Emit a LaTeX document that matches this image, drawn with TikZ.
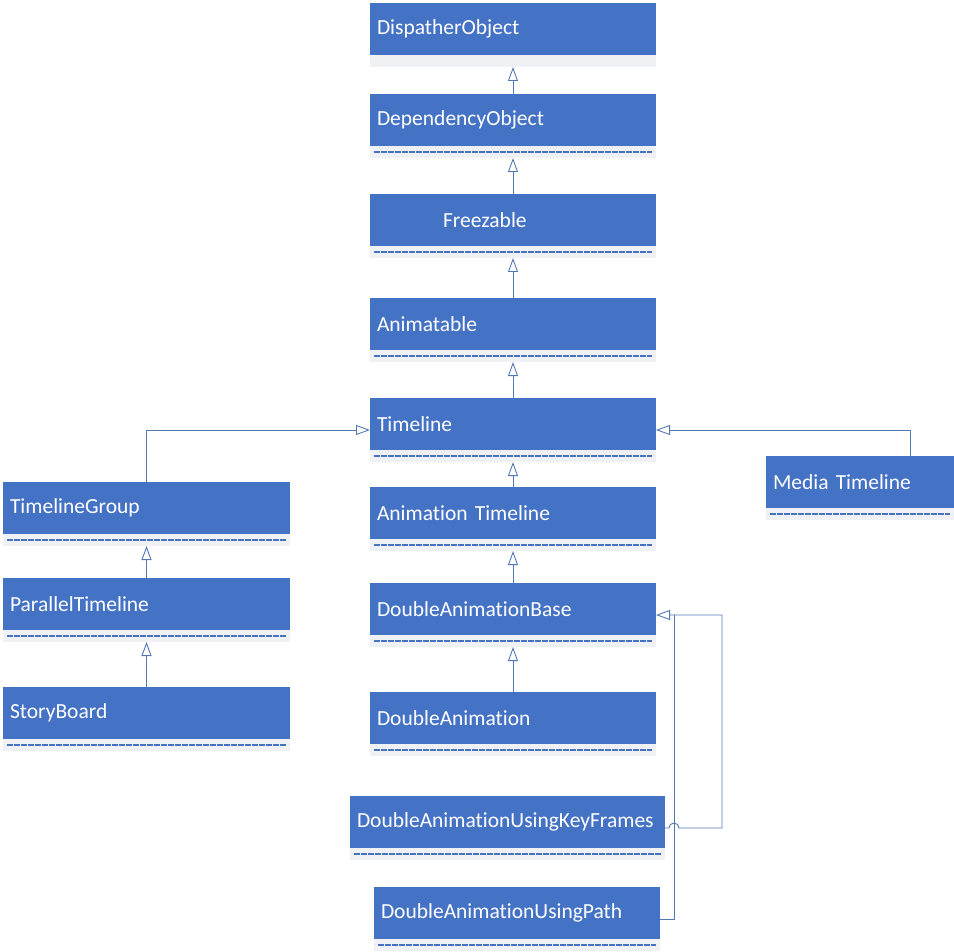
\documentclass[tikz,border=0pt]{standalone}
\usepackage{fontspec}
\setmainfont{Carlito}[Ligatures=NoCommon]
\usetikzlibrary{positioning,arrows.meta}
\definecolor{umlblue}{RGB}{68,114,196}
\definecolor{umlline}{RGB}{84,120,180}
\definecolor{stripgray}{RGB}{239,241,244}
\tikzset{
    classbox/.style = {fill=umlblue, text=white, rectangle, anchor=north west, minimum height=52pt, inner xsep=7pt, inner ysep=0pt, outer sep=0pt, text width=#1, align=left, font=\fontsize{21.5}{26}\selectfont, execute at begin node={\hyphenpenalty=10000}},
    classbox/.default = 272pt,
    plainstrip/.style = {fill=stripgray, rectangle, minimum height=12pt, minimum width=#1, inner sep=0pt, outer sep=0pt},
    plainstrip/.default = 286pt,
    classstrip/.style = {plainstrip=#1, path picture={\draw[umlblue, line width=1.8pt, dash pattern=on 6pt off 1pt] ([xshift=4pt]path picture bounding box.west) -- ([xshift=-4pt]path picture bounding box.east);}},
    classstrip/.default = 286pt,
    inherit/.style = {draw=umlline, line width=0.9pt, -{Triangle[open, length=14pt, width=10pt]}},
    link/.style = {draw=umlline, line width=0.9pt},
}
\begin{document}
\begin{tikzpicture}[x=1pt, y=-1pt]
\useasboundingbox (0,0) rectangle (954,952);

% main column
\node[classbox] (disp) at (370,3) {DispatherObject};
\node[plainstrip, below=0pt of disp] (dispS) {};
\node[classbox] (dep) at (370,94) {DependencyObject};
\node[classstrip, below=0pt of dep] (depS) {};
\node[classbox] (frz) at (370,194) {\hspace*{66pt}Freezable};
\node[classstrip, below=0pt of frz] (frzS) {};
\node[classbox] (anim) at (370,298) {Animatable};
\node[classstrip, below=0pt of anim] (animS) {};
\node[classbox] (tl) at (370,398) {Timeline};
\node[classstrip, below=0pt of tl] (tlS) {};
\node[classbox] (atl) at (370,487) {Animation Timeline};
\node[classstrip, below=0pt of atl] (atlS) {};
\node[classbox] (base) at (370,583) {DoubleAnimationBase};
\node[classstrip, below=0pt of base] (baseS) {};
\node[classbox] (dbl) at (370,692) {DoubleAnimation};
\node[classstrip, below=0pt of dbl] (dblS) {};
\node[classbox=301pt] (kf) at (350,796) {DoubleAnimationUsingKeyFrames};
\node[classstrip=315pt, below=0pt of kf] (kfS) {};
\node[classbox] (usingpath) at (374,887) {DoubleAnimationUsingPath};
\node[classstrip, below=0pt of usingpath] (usingpathS) {};

% left column
\node[classbox=273pt] (grp) at (3,482) {TimelineGroup};
\node[classstrip=287pt, below=0pt of grp] (grpS) {};
\node[classbox=273pt] (par) at (3,578) {ParallelTimeline};
\node[classstrip=287pt, below=0pt of par] (parS) {};
\node[classbox=273pt] (story) at (3,687) {StoryBoard};
\node[classstrip=287pt, below=0pt of story] (storyS) {};

% right
\node[classbox=174pt] (media) at (766,456) {Media Timeline};
\node[classstrip=188pt, below=0pt of media] (mediaS) {};

% inheritance
\draw[inherit] (dep.north) -- (dispS.south);
\draw[inherit] (frz.north) -- (depS.south);
\draw[inherit] (anim.north) -- (frzS.south);
\draw[inherit] (tl.north) -- (animS.south);
\draw[inherit] (atl.north) -- (tlS.south);
\draw[inherit] (base.north) -- (atlS.south);
\draw[inherit] (dbl.north) -- (baseS.south);
\draw[inherit] (grp.north) |- ([yshift=-6pt]tl.west);
\draw[inherit] ([xshift=50pt]media.north) |- ([yshift=-6pt]tl.east);
\draw[inherit] (par.north) -- (grpS.south);
\draw[inherit] (story.north) -- (parS.south);
\draw[inherit] ([yshift=-6pt]kf.east) -- ++(4,0) arc[start angle=180, end angle=0, radius=5pt] -- ++(43,0) |- ([yshift=-6pt]base.east);
\coordinate (join) at ([xshift=18pt,yshift=-6pt]base.east);
\draw[link] ([yshift=-6pt]usingpath.east) -| (join);
\end{tikzpicture}
\end{document}
